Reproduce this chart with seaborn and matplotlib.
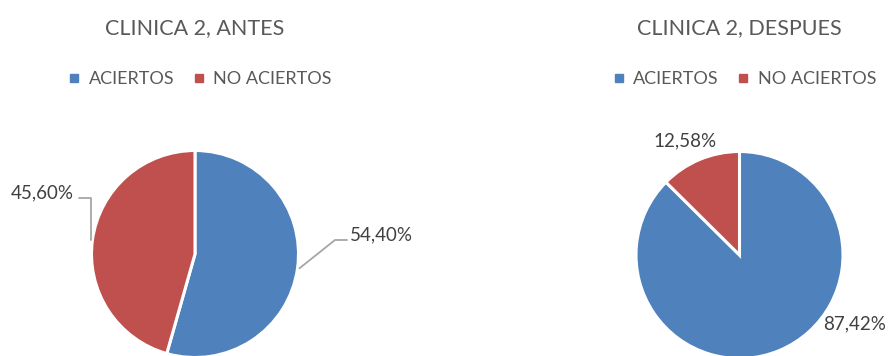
import matplotlib
matplotlib.use("Agg")
import matplotlib.pyplot as plt
from matplotlib.lines import Line2D
import numpy as np
import seaborn as sns

# ---- data ----
categories = ["ACIERTOS", "NO ACIERTOS"]
titles = ["CLINICA 2, ANTES", "CLINICA 2, DESPUES"]
antes = [54.40, 45.60]
despues = [87.42, 12.58]
label_antes = ["54,40%", "45,60%"]
label_despues = ["87,42%", "12,58%"]

sns.set_theme(style="white")
plt.rcParams["font.family"] = ["Lato", "DejaVu Sans"]

colors = ["#4F81BD", "#C0504D"]
TXT = "#595959"
LBL = "#404040"
LEAD = "#A6A6A6"

W, H = 895, 356
fig = plt.figure(figsize=(W / 100, H / 100), dpi=100)
ax = fig.add_axes([0, 0, 1, 1])

def Y(p):
    return H - p

R = 103.5
centers = [(195, 254), (739.5, 255)]
datasets = [antes, despues]

for (cx, cy), vals in zip(centers, datasets):
    ax.pie(vals, colors=colors, startangle=90, counterclock=False,
           center=(cx, Y(cy)), radius=R,
           wedgeprops=dict(edgecolor="white", linewidth=2.2))

ax.set_xlim(0, W)
ax.set_ylim(0, H)
ax.set_aspect("equal")
ax.axis("off")

def mid_point(vals, i, cx, cy):
    tot = sum(vals)
    start = sum(vals[:i]) / tot
    frac = vals[i] / tot
    ang = np.deg2rad(90 - 360 * (start + frac / 2))
    return cx + R * np.cos(ang), Y(cy) + R * np.sin(ang)

LFS = 13.5
# Left chart labels with leader lines
cx, cy = centers[0]
x0, y0 = mid_point(antes, 0, cx, cy)
ax.plot([x0 + 2, 335, 347], [y0, Y(240), Y(240)], color=LEAD, lw=1.3)
ax.text(350, Y(235), label_antes[0], ha="left", va="center", fontsize=LFS, color=LBL)
x1, y1 = mid_point(antes, 1, cx, cy)
ax.plot([x1 - 1, x1 - 1, 79], [y1, Y(198), Y(198)], color=LEAD, lw=1.3)
ax.text(74, Y(193), label_antes[1], ha="right", va="center", fontsize=LFS, color=LBL)

# Right chart labels
ax.text(685, Y(141), label_despues[1], ha="center", va="center", fontsize=LFS, color=LBL)
ax.text(855, Y(324), label_despues[0], ha="center", va="center", fontsize=LFS, color=LBL)

# Titles and legends
for (cx, cy), t in zip(centers, titles):
    ax.text(cx, Y(28), t, ha="center", va="center", fontsize=15.5, color=TXT)

handles = [Line2D([], [], marker="s", linestyle="none", markersize=5.5,
                  markerfacecolor=c, markeredgecolor=c) for c in colors]
legs = []
for (cx, cy) in centers:
    leg = ax.legend(handles, categories, loc="center", ncol=2, frameon=False,
                    bbox_to_anchor=((cx + 5) / W, 1 - 79 / H), bbox_transform=ax.transAxes,
                    fontsize=13, handlelength=0.7, handletextpad=0.45,
                    columnspacing=1.0, labelcolor=TXT)
    legs.append(leg)
ax.add_artist(legs[0])

fig.savefig("out.png", dpi=100)
